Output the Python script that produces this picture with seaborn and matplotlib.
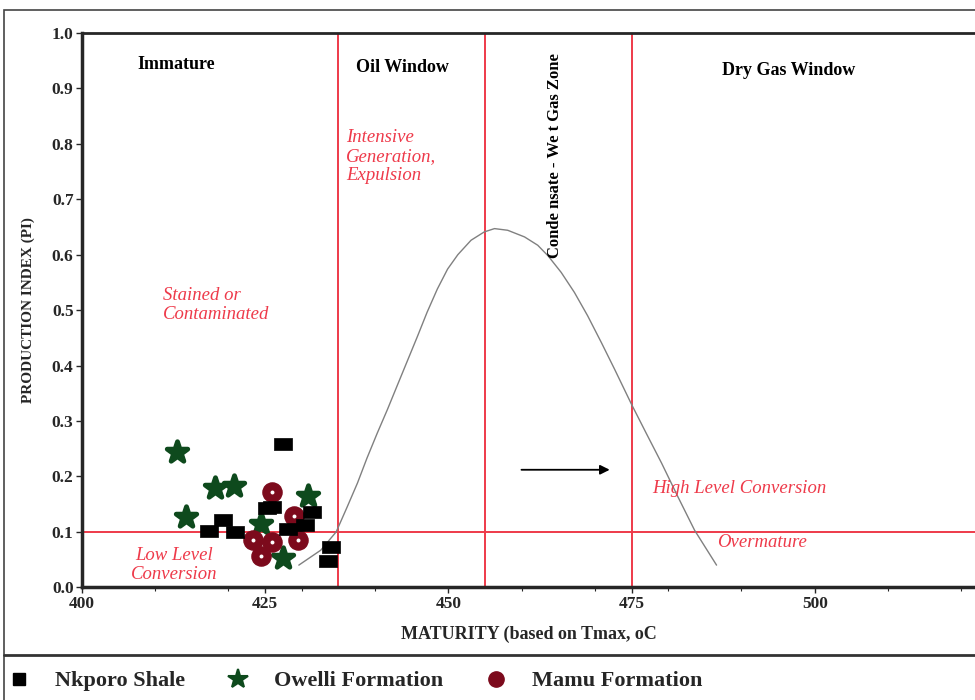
import numpy as np
import pandas as pd
import matplotlib.pyplot as plt
import seaborn as sns
from matplotlib.lines import Line2D
from matplotlib.patches import Rectangle

# sample points (Tmax, PI)
nkporo_tmax = [427.5, 417.3, 419.2, 420.9, 425.2, 426.0, 428.1, 430.4, 431.4, 434.0, 433.6]
nkporo_pi = [0.258, 0.101, 0.121, 0.100, 0.143, 0.145, 0.105, 0.113, 0.136, 0.072, 0.048]
owelli_tmax = [413.0, 418.1, 420.8, 414.2, 424.5, 430.9, 427.5]
owelli_pi = [0.244, 0.179, 0.182, 0.127, 0.114, 0.165, 0.052]
mamu_tmax = [426.0, 428.9, 423.4, 426.0, 429.5, 424.5]
mamu_pi = [0.172, 0.128, 0.086, 0.082, 0.086, 0.056]

# generation curve
curve_tmax = [429.6, 432.6, 434.7, 436.2, 437.6, 438.9, 440.3, 441.7, 443.0, 444.4, 445.8,
              447.1, 448.5, 449.9, 451.3, 453.1, 454.9, 456.3, 458.1, 460.4, 462.2, 463.6,
              465.4, 467.2, 469.0, 470.9, 472.7, 475.0, 477.0, 479.1, 481.3, 483.6, 486.6]
curve_pi = [0.040, 0.067, 0.100, 0.145, 0.188, 0.233, 0.278, 0.321, 0.363, 0.408, 0.453,
            0.496, 0.538, 0.574, 0.600, 0.626, 0.641, 0.647, 0.644, 0.632, 0.617, 0.598,
            0.568, 0.532, 0.490, 0.441, 0.393, 0.330, 0.278, 0.224, 0.164, 0.103, 0.040]

zone_bounds = [435, 455, 475]
pi_cut = 0.1

df = pd.concat([
    pd.DataFrame({'tmax': nkporo_tmax, 'pi': nkporo_pi, 'unit': 'Nkporo Shale'}),
    pd.DataFrame({'tmax': owelli_tmax, 'pi': owelli_pi, 'unit': 'Owelli Formation'}),
    pd.DataFrame({'tmax': mamu_tmax, 'pi': mamu_pi, 'unit': 'Mamu Formation'}),
])
curve = pd.DataFrame({'tmax': curve_tmax, 'pi': curve_pi})

sns.set_style('ticks')
plt.rcParams['font.family'] = ['Liberation Serif', 'DejaVu Serif']

red = '#ee3a4a'
green = '#0e4a1d'
maroon = '#7c0a1c'
rect = [(-1, -0.75), (1, -0.75), (1, 0.75), (-1, 0.75), (-1, -0.75)]

fig = plt.figure(figsize=(9.75, 7), dpi=100)
ax = fig.add_axes([0.084, 0.161, 0.917, 0.792])

for xv in zone_bounds:
    ax.axvline(xv, color=red, lw=1.4, zorder=1)
ax.axhline(pi_cut, color=red, lw=1.4, zorder=1)

sns.lineplot(data=curve, x='tmax', y='pi', color='#808080', lw=1.0, ax=ax, zorder=2)

sns.scatterplot(data=df[df.unit == 'Nkporo Shale'], x='tmax', y='pi', marker=rect, s=150,
                color='black', edgecolor='black', linewidth=0.5, ax=ax, zorder=4)
sns.scatterplot(data=df[df.unit == 'Owelli Formation'], x='tmax', y='pi', marker='*', s=240,
                color=green, edgecolor=green, linewidth=3.5, joinstyle='round', ax=ax, zorder=3)
mamu = df[df.unit == 'Mamu Formation']
sns.scatterplot(data=mamu, x='tmax', y='pi', marker='o', s=190,
                color=maroon, edgecolor=maroon, linewidth=1.0, ax=ax, zorder=3)
sns.scatterplot(data=mamu, x='tmax', y='pi', marker='o', s=8,
                color='white', edgecolor='white', linewidth=0, ax=ax, zorder=3.5)

ax.annotate('', xy=(472.4, 0.212), xytext=(459.6, 0.212),
            arrowprops=dict(arrowstyle='-|>', color='black', lw=1.3, mutation_scale=14))

bold = dict(fontsize=13, fontweight='bold', color='black')
ax.text(412.9, 0.943, 'Immature', ha='center', va='center', **bold)
ax.text(443.8, 0.937, 'Oil Window', ha='center', va='center', **bold)
ax.text(496.4, 0.933, 'Dry Gas Window', ha='center', va='center', **bold)
ax.text(464.6, 0.779, 'Conde nsate - We t Gas Zone', rotation=90, ha='center', va='center',
        fontsize=12, fontweight='bold', color='black')

ital = dict(fontsize=13.5, style='italic', color=red)
ax.text(436.0, 0.777, 'Intensive\nGeneration,\nExpulsion', ha='left', va='center',
        linespacing=1.15, **ital)
ax.text(411.1, 0.510, 'Stained or\nContaminated', ha='left', va='center', linespacing=1.15, **ital)
ax.text(412.6, 0.040, 'Low Level\nConversion', ha='center', va='center', linespacing=1.15, **ital)
ax.text(477.8, 0.178, 'High Level Conversion', ha='left', va='center', **ital)
ax.text(486.7, 0.080, 'Overmature', ha='left', va='center', **ital)

ax.set_xlim(400, 522)
ax.set_ylim(0, 1.0)
ax.set_xticks([400, 425, 450, 475, 500])
ax.set_xticks(np.arange(410, 521, 10), minor=True)
ax.set_yticks(np.arange(0, 1.01, 0.1))
ax.set_yticklabels([f'{v:.1f}' for v in np.arange(0, 1.01, 0.1)])
ax.tick_params(axis='both', labelsize=12.5, length=4, width=1, direction='out', pad=2)
ax.tick_params(axis='x', which='minor', length=3, width=0.8)
for lab in ax.get_xticklabels() + ax.get_yticklabels():
    lab.set_fontweight('bold')
ax.set_xlabel('MATURITY (based on Tmax, oC', fontsize=13, fontweight='bold', labelpad=10)
ax.set_ylabel('PRODUCTION INDEX (PI)', fontsize=11, fontweight='bold', labelpad=12)

ax.spines['right'].set_visible(False)
ax.spines['left'].set_linewidth(2.5)
ax.spines['bottom'].set_linewidth(2.5)
ax.spines['top'].set_linewidth(2.0)

# outer frame and legend strip
fig.patches.append(Rectangle((0.004, -0.05), 1.2, 1.036, transform=fig.transFigure,
                             fill=False, edgecolor='#444444', lw=1.2))
fig.add_artist(Line2D([0.004, 1.0], [0.064, 0.064], transform=fig.transFigure,
                      color='#333333', lw=2.0))

handles = [
    Line2D([], [], ls='none', marker='s', ms=9, color='black'),
    Line2D([], [], ls='none', marker='*', ms=15, color=green, mec=green, mew=1.5),
    Line2D([], [], ls='none', marker='o', ms=11, color=maroon),
]
fig.legend(handles, ['Nkporo Shale', 'Owelli Formation', 'Mamu Formation'],
           loc='center left', bbox_to_anchor=(-0.012, 0.027), ncol=3, frameon=False,
           prop=dict(family='Liberation Serif', weight='bold', size=16),
           handletextpad=1.1, columnspacing=1.9, handlelength=1.0)

fig.savefig('out.png', dpi=100)
